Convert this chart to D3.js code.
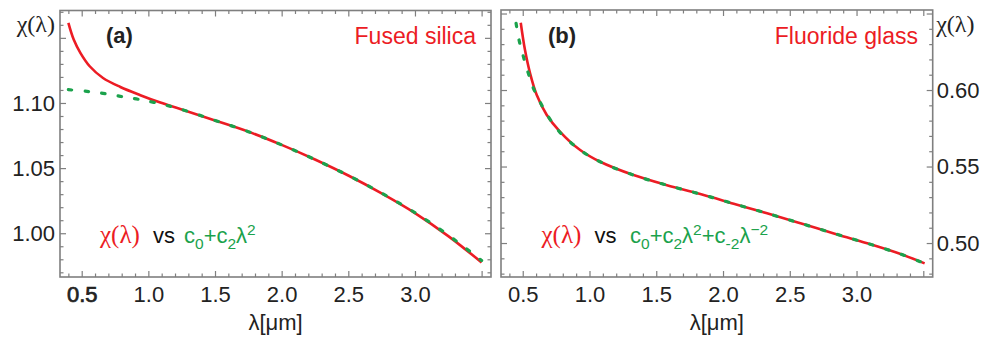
<!DOCTYPE html>
<html>
<head>
<meta charset="utf-8">
<script src="https://cdn.jsdelivr.net/npm/d3@7"></script>
<style>
  html, body { margin: 0; padding: 0; background: #fff; }
  svg { display: block; font-family: "Liberation Sans", Arial, sans-serif; }
</style>
</head>
<body>
<div id="chart"></div>
<script>
// values
const lambdaSilica = [0.40, 0.44, 0.49, 0.56, 0.66, 0.79, 0.94, 1.09, 1.25, 1.50, 1.75, 2.00, 2.25, 2.50, 2.75, 3.00, 3.25, 3.50];
const chiSilica = [1.1615, 1.1487, 1.1385, 1.1282, 1.1192, 1.1123, 1.1060, 1.1003, 1.0950, 1.0866, 1.0780, 1.0678, 1.0566, 1.0443, 1.0306, 1.0155, 0.9978, 0.9776];
const lambdaSilicaFit = [0.40, 0.54, 0.66, 0.79, 0.91, 1.04, 1.25, 1.50, 1.75, 2.00, 2.25, 2.50, 2.75, 3.00, 3.25, 3.50];
const fitSilica = [1.1102, 1.1089, 1.1074, 1.1051, 1.1031, 1.1005, 1.0950, 1.0866, 1.0780, 1.0678, 1.0566, 1.0443, 1.0308, 1.0158, 0.9985, 0.9790];

const lambdaFluoride = [0.485, 0.517, 0.555, 0.605, 0.68, 0.78, 0.93, 1.08, 1.33, 1.58, 1.83, 2.08, 2.33, 2.58, 2.83, 3.08, 3.33, 3.51];
const chiFluoride = [0.6440, 0.6261, 0.6109, 0.5967, 0.5837, 0.5727, 0.5608, 0.5531, 0.5444, 0.5378, 0.5320, 0.5257, 0.5194, 0.5129, 0.5063, 0.4998, 0.4928, 0.4867];
const lambdaFluorideFit = [0.45, 0.475, 0.505, 0.542, 0.58, 0.635, 0.70, 0.775, 0.93, 1.08, 1.33, 1.58, 1.83, 2.08, 2.33, 2.58, 2.83, 3.08, 3.33, 3.50];
const fitFluoride = [0.6436, 0.6316, 0.6218, 0.6109, 0.6011, 0.5913, 0.5815, 0.5727, 0.5608, 0.5531, 0.5444, 0.5378, 0.5320, 0.5257, 0.5194, 0.5129, 0.5063, 0.4998, 0.4928, 0.4870];

const xTickValues = [0.5, 1.0, 1.5, 2.0, 2.5, 3.0];
const xMajorTicks = [0.5, 1.0, 1.5, 2.0, 2.5, 3.0, 3.5];
const xMinorTicks = [0.4, 0.6, 0.7, 0.8, 0.9, 1.1, 1.2, 1.3, 1.4, 1.6, 1.7, 1.8, 1.9, 2.1, 2.2, 2.3, 2.4, 2.6, 2.7, 2.8, 2.9, 3.1, 3.2, 3.3, 3.4];
const yTicksSilica = [1.00, 1.05, 1.10];
const yMajorSilica = [1.00, 1.05, 1.10, 1.15];
const yMinorSilica = [0.97, 0.98, 0.99, 1.01, 1.02, 1.03, 1.04, 1.06, 1.07, 1.08, 1.09, 1.11, 1.12, 1.13, 1.14, 1.16, 1.17];
const yTicksFluoride = [0.50, 0.55, 0.60];
const yMajorFluoride = [0.50, 0.55, 0.60, 0.65];
const yMinorFluoride = [0.48, 0.49, 0.51, 0.52, 0.53, 0.54, 0.56, 0.57, 0.58, 0.59, 0.61, 0.62, 0.63, 0.64];

const width = 984, height = 342;
const red = "#ec1c24", green = "#1ba24c", frameColor = "#7f7f7f", ink = "#222";

const svg = d3.select("#chart").append("svg")
  .attr("width", width)
  .attr("height", height);

svg.append("rect").attr("width", width).attr("height", height).attr("fill", "#fff");

function tickGroup(g, axis, scale, values, size, transform) {
  g.append("g")
    .attr("transform", transform)
    .call(axis(scale).tickValues(values).tickSize(size).tickFormat(""))
    .call(s => s.select(".domain").remove())
    .call(s => s.selectAll("line").attr("stroke", frameColor).attr("stroke-width", 1.2));
}

function drawPanel(p) {
  const x = d3.scaleLinear().domain([0.3372, 3.5704]).range([p.left, p.right]);
  const y = d3.scaleLinear().domain(p.yDomain).range([p.bottom, p.top]);
  const g = svg.append("g");

  // ticks on all four sides, pointing inward
  tickGroup(g, d3.axisBottom, x, xMajorTicks, -6, `translate(0,${p.bottom})`);
  tickGroup(g, d3.axisBottom, x, xMinorTicks, -3.5, `translate(0,${p.bottom})`);
  tickGroup(g, d3.axisTop, x, xMajorTicks, -6, `translate(0,${p.top})`);
  tickGroup(g, d3.axisTop, x, xMinorTicks, -3.5, `translate(0,${p.top})`);
  tickGroup(g, d3.axisLeft, y, p.yMajor, -6, `translate(${p.left},0)`);
  tickGroup(g, d3.axisLeft, y, p.yMinor, -3.5, `translate(${p.left},0)`);
  tickGroup(g, d3.axisRight, y, p.yMajor, -6, `translate(${p.right},0)`);
  tickGroup(g, d3.axisRight, y, p.yMinor, -3.5, `translate(${p.right},0)`);

  g.append("rect")
    .attr("x", p.left).attr("y", p.top)
    .attr("width", p.right - p.left).attr("height", p.bottom - p.top)
    .attr("fill", "none").attr("stroke", frameColor).attr("stroke-width", 1.6);

  // tick labels
  const xl = g.append("g")
    .attr("transform", `translate(0,${p.bottom})`)
    .call(d3.axisBottom(x).tickValues(xTickValues).tickSize(0).tickPadding(9.5).tickFormat(d3.format(".1f")));
  xl.select(".domain").remove();
  xl.selectAll("text").attr("font-size", 22).attr("fill", ink).attr("font-family", "Liberation Sans, Arial, sans-serif");
  if (p.boldFirst) xl.selectAll("text").filter(d => d === 0.5).attr("stroke", ink).attr("stroke-width", 0.7);

  const yAxis = p.yRight ? d3.axisRight(y) : d3.axisLeft(y);
  const yl = g.append("g")
    .attr("transform", `translate(${p.yRight ? p.right : p.left},0)`)
    .call(yAxis.tickValues(p.yTicks).tickSize(0).tickPadding(p.yRight ? 4 : 5).tickFormat(d3.format(".2f")));
  yl.select(".domain").remove();
  yl.selectAll("text").attr("font-size", 22).attr("fill", ink).attr("font-family", "Liberation Sans, Arial, sans-serif");

  // axis titles
  g.append("text")
    .attr("x", (p.left + p.right) / 2).attr("y", 330)
    .attr("text-anchor", "middle").attr("font-size", 22).attr("fill", ink)
    .text("λ[μm]");
  g.append("text")
    .attr("x", p.yRight ? p.right + 3.5 : p.left - 5).attr("y", 32)
    .attr("text-anchor", p.yRight ? "start" : "end")
    .attr("font-family", "Liberation Serif, Times New Roman, serif")
    .attr("font-size", 24).attr("fill", ink)
    .text("χ(λ)");

  // curves
  const line = d3.line().x(d => x(d[0])).y(d => y(d[1])).curve(d3.curveCatmullRom.alpha(0.5));
  g.append("path")
    .datum(d3.zip(p.lam, p.chi))
    .attr("d", line)
    .attr("fill", "none").attr("stroke", red).attr("stroke-width", 2.6);
  g.append("path")
    .datum(d3.zip(p.lamFit, p.fit))
    .attr("d", line)
    .attr("fill", "none").attr("stroke", green).attr("stroke-width", 3.2)
    .attr("stroke-linecap", "round")
    .attr("stroke-dasharray", "3.5,13.2");

  // panel letter and material
  g.append("text")
    .attr("x", p.letterX).attr("y", 42.5)
    .attr("font-size", 22).attr("font-weight", "bold").attr("fill", ink)
    .text(p.letter);
  g.append("text")
    .attr("x", p.nameX).attr("y", 44)
    .attr("text-anchor", "end").attr("font-size", 23).attr("fill", red)
    .text(p.name);

  // legend
  const leg = g.append("text").attr("y", 243).attr("font-size", 22);
  leg.append("tspan").attr("x", p.legX)
    .attr("font-family", "Liberation Serif, Times New Roman, serif")
    .attr("font-size", 25).attr("fill", red).text("χ(λ)");
  leg.append("tspan").attr("x", p.legX + 53).attr("fill", "#111").text("vs");
  p.fitParts.forEach((part, i) => {
    const t = leg.append("tspan").attr("fill", green).text(part.t);
    if (i === 0) t.attr("x", p.legFitX);
    if (part.dy) t.attr("dy", part.dy);
    if (part.small) t.attr("font-size", 15.5);
  });
}

drawPanel({
  left: 60, right: 491, top: 10.5, bottom: 277,
  yDomain: [0.9664, 1.171], yTicks: yTicksSilica, yMajor: yMajorSilica, yMinor: yMinorSilica,
  yRight: false, boldFirst: true,
  lam: lambdaSilica, chi: chiSilica, lamFit: lambdaSilicaFit, fit: fitSilica,
  letter: "(a)", letterX: 106, name: "Fused silica", nameX: 476,
  legX: 100, legFitX: 184,
  fitParts: [
    { t: "c" }, { t: "0", dy: 6, small: true }, { t: "+c", dy: -6 }, { t: "2", dy: 6, small: true },
    { t: "λ", dy: -6 }, { t: "2", dy: -8, small: true }
  ]
});

drawPanel({
  left: 501, right: 932.7, top: 10, bottom: 277,
  yDomain: [0.4778, 0.6523], yTicks: yTicksFluoride, yMajor: yMajorFluoride, yMinor: yMinorFluoride,
  yRight: true, boldFirst: false,
  lam: lambdaFluoride, chi: chiFluoride, lamFit: lambdaFluorideFit, fit: fitFluoride,
  letter: "(b)", letterX: 548, name: "Fluoride glass", nameX: 918,
  legX: 541.5, legFitX: 630,
  fitParts: [
    { t: "c" }, { t: "0", dy: 6, small: true }, { t: "+c", dy: -6 }, { t: "2", dy: 6, small: true },
    { t: "λ", dy: -6 }, { t: "2", dy: -8, small: true }, { t: "+c", dy: 8 }, { t: "-2", dy: 6, small: true },
    { t: "λ", dy: -6 }, { t: "−2", dy: -8, small: true }
  ]
});
</script>
</body>
</html>
